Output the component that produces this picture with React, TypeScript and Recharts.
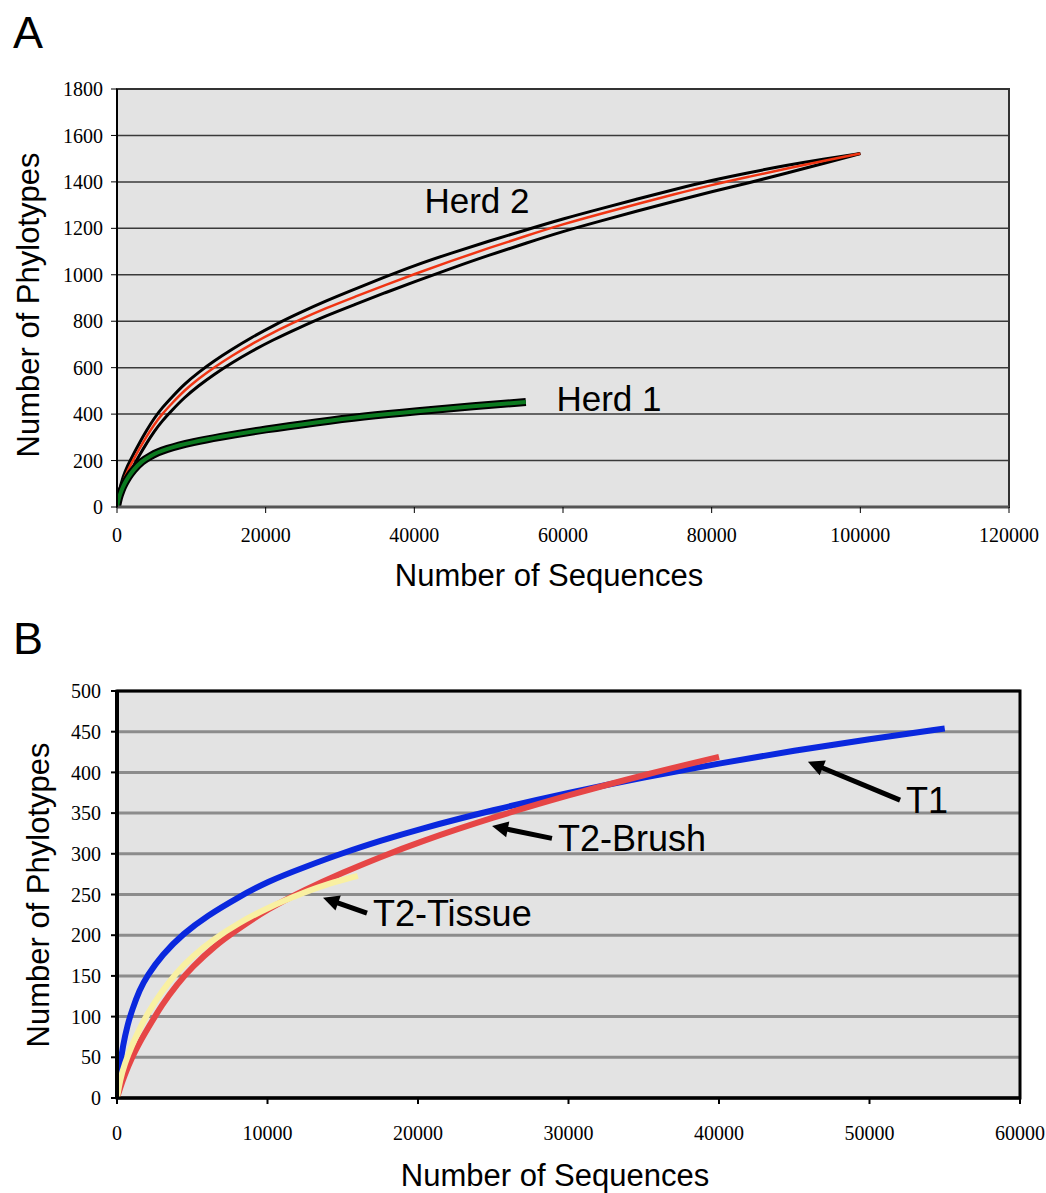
import { LineChart, Line, XAxis, YAxis, CartesianGrid, ReferenceArea, ReferenceDot, ReferenceLine } from 'recharts';

// ---- Panel A: rarefaction curves for the two herds ----
const herd2Seqs = [0, 300, 800, 1400, 2150, 3000, 4000, 5000, 6050, 7500, 9000, 11000, 13000, 15500, 18000, 21000, 24490, 28000, 32000, 36000, 40000, 45000, 50000, 55000, 60000, 65000, 70000, 75000, 80000, 85000, 90000, 95000, 100000];
const herd2Mid = [0, 55, 110, 155, 200, 250, 305, 355, 400, 450, 500, 553, 600, 652, 700, 752, 805, 855, 905, 955, 1003, 1060, 1115, 1167, 1218, 1262, 1305, 1347, 1387, 1422, 1457, 1490, 1522];
const herd2Upper = [0, 70, 130, 177, 224, 275, 331, 382, 427, 477, 528, 581, 628, 680, 728, 781, 835, 886, 938, 990, 1040, 1094, 1145, 1193, 1241, 1284, 1326, 1368, 1407, 1440, 1471, 1498, 1522];
const herd2Lower = [0, 40, 88, 130, 173, 222, 276, 325, 370, 420, 470, 523, 570, 622, 669, 720, 772, 822, 872, 922, 970, 1028, 1084, 1136, 1187, 1231, 1275, 1317, 1358, 1396, 1437, 1479, 1522];

const herd1Seqs = [0, 250, 600, 1000, 1500, 2200, 3360, 4500, 5500, 6730, 8300, 10000, 13450, 20000, 26900, 33000, 40360, 48000, 55000];
const herd1Phylo = [0, 40, 72, 100, 128, 160, 198, 220, 236, 250, 265, 278, 300, 335, 365, 390, 413, 434, 452];

const yTicksA = [0, 200, 400, 600, 800, 1000, 1200, 1400, 1600, 1800];
const xTicksA = [0, 20000, 40000, 60000, 80000, 100000, 120000];

// herd name, x, y (data coordinates of label centre)
const herdLabels: [string, number, number][] = [
  ['Herd 2', 48430, 1322],
  ['Herd 1', 66190, 469],
];

// ---- Panel B: rarefaction curves by sample type ----
const t1Seqs = [0, 150, 400, 700, 1000, 1500, 2000, 3000, 4400, 6000, 8000, 10000, 12500, 15000, 17500, 20000, 25000, 30000, 35000, 40000, 45000, 50000, 55000];
const t1Phylo = [0, 35, 65, 90, 108, 133, 150, 176, 202, 224, 246, 266, 284, 301, 316, 330, 354, 375, 394, 411, 427, 441, 454];

const brushSeqs = [0, 200, 500, 1000, 1500, 2000, 3000, 4000, 5000, 6500, 8000, 10000, 12500, 15000, 17500, 20000, 25000, 30000, 35000, 40000];
const brushPhylo = [0, 12, 28, 50, 68, 84, 115, 140, 161, 187, 207, 232, 256, 277, 296, 314, 345, 372, 397, 419];

const tissueSeqs = [0, 200, 500, 1000, 1500, 2000, 3000, 4000, 5000, 6500, 8000, 10000, 12500, 14000, 16000];
const tissuePhylo = [0, 22, 42, 65, 85, 103, 132, 155, 174, 196, 214, 234, 253, 263, 273];

const yTicksB = [0, 50, 100, 150, 200, 250, 300, 350, 400, 450, 500];
const xTicksB = [0, 10000, 20000, 30000, 40000, 50000, 60000];

// label, arrow head (x, y), arrow tail (x, y)
const arrowLabels: [string, number, number, number, number][] = [
  ['T1', 45910, 413, 52030, 366],
  ['T2-Brush', 24920, 334, 28900, 319],
  ['T2-Tissue', 13690, 246, 16610, 227],
];

const zip = (xs: number[], ys: number[]) => xs.map((x, i) => ({ x, y: ys[i] }));

const sans = '"Liberation Sans", Arial, sans-serif';
const serif = '"Liberation Serif", "Times New Roman", serif';
const tickStyle = { fontFamily: serif, fontSize: 20, fill: '#000' };

function Text({ x, y, size, rotate = 0, children }: { x: number; y: number; size: number; rotate?: number; children: string }) {
  return (
    <div
      style={{
        position: 'absolute',
        left: x,
        top: y,
        transform: `translate(-50%, -50%) rotate(${rotate}deg)`,
        fontFamily: sans,
        fontSize: size,
        lineHeight: 1,
        whiteSpace: 'nowrap',
        color: '#000',
      }}
    >
      {children}
    </div>
  );
}

const arrowShape = (label: string) => (p: any) => {
  const { x1, y1, x2, y2 } = p;
  const dx = x1 - x2;
  const dy = y1 - y2;
  const len = Math.sqrt(dx * dx + dy * dy) || 1;
  const ux = dx / len;
  const uy = dy / len;
  const bx = x1 - ux * 16;
  const by = y1 - uy * 16;
  return (
    <g>
      <line x1={x2} y1={y2} x2={bx + ux * 2} y2={by + uy * 2} stroke="#000" strokeWidth={5} />
      <polygon
        points={`${x1},${y1} ${bx - uy * 8},${by + ux * 8} ${bx + uy * 8},${by - ux * 8}`}
        fill="#000"
      />
      <text x={x2 + 6} y={y2} dominantBaseline="central" fontFamily={sans} fontSize={36} fill="#000">
        {label}
      </text>
    </g>
  );
};

export default function App() {
  return (
    <div style={{ position: 'absolute', left: 0, top: 0, width: 1046, height: 1193, background: '#fff' }}>
      <Text x={28} y={32} size={45}>A</Text>
      <Text x={28} y={638} size={45}>B</Text>

      <div style={{ position: 'absolute', left: 0, top: 0 }}>
        <LineChart width={1046} height={610} margin={{ top: 89, right: 37, left: 0, bottom: 0 }}>
          <CartesianGrid vertical={false} fill="#e3e3e3" stroke="#3a3a3a" strokeWidth={1.5} />
          <ReferenceArea x1={0} x2={120000} y1={0} y2={1800} fill="none" stroke="#333" strokeWidth={2} />
          <XAxis
            dataKey="x"
            type="number"
            domain={[0, 120000]}
            ticks={xTicksA}
            interval={0}
            height={103}
            tickMargin={15}
            tick={tickStyle}
            axisLine={{ stroke: '#555', strokeWidth: 3 }}
            tickLine={{ stroke: '#000' }}
            allowDataOverflow
          />
          <YAxis
            type="number"
            domain={[0, 1800]}
            ticks={yTicksA}
            interval={0}
            width={117}
            tickMargin={8}
            tick={tickStyle}
            axisLine={{ stroke: '#000', strokeWidth: 2 }}
            tickLine={{ stroke: '#000' }}
            allowDataOverflow
          />
          <Line data={zip(herd2Seqs, herd2Upper)} dataKey="y" type="basis" stroke="#000" strokeWidth={3} dot={false} isAnimationActive={false} />
          <Line data={zip(herd2Seqs, herd2Lower)} dataKey="y" type="basis" stroke="#000" strokeWidth={3} dot={false} isAnimationActive={false} />
          <Line data={zip(herd2Seqs, herd2Mid)} dataKey="y" type="basis" stroke="#f03412" strokeWidth={2.5} dot={false} isAnimationActive={false} />
          <Line data={zip(herd1Seqs, herd1Phylo)} dataKey="y" type="basis" stroke="#000" strokeWidth={8} dot={false} isAnimationActive={false} />
          <Line data={zip(herd1Seqs, herd1Phylo)} dataKey="y" type="basis" stroke="#0b7a1f" strokeWidth={4} dot={false} isAnimationActive={false} />
          {herdLabels.map(([name, x, y]) => (
            <ReferenceDot
              key={name}
              x={x}
              y={y}
              r={0}
              shape={(p: any) => (
                <text x={p.cx} y={p.cy} textAnchor="middle" dominantBaseline="central" fontFamily={sans} fontSize={35} fill="#000">
                  {name}
                </text>
              )}
            />
          ))}
        </LineChart>
      </div>
      <Text x={28} y={305} size={31} rotate={-90}>Number of Phylotypes</Text>
      <Text x={549} y={575} size={31}>Number of Sequences</Text>

      <div style={{ position: 'absolute', left: 0, top: 600 }}>
        <LineChart width={1046} height={593} margin={{ top: 91, right: 26, left: 0, bottom: 0 }}>
          <CartesianGrid vertical={false} fill="#e3e3e3" stroke="#8c8c8c" strokeWidth={3} />
          <ReferenceArea x1={0} x2={60000} y1={0} y2={500} fill="none" stroke="#000" strokeWidth={3} />
          <XAxis
            dataKey="x"
            type="number"
            domain={[0, 60000]}
            ticks={xTicksB}
            interval={0}
            height={95}
            tickMargin={22}
            tick={tickStyle}
            axisLine={{ stroke: '#000', strokeWidth: 3 }}
            tickLine={{ stroke: '#000', strokeWidth: 2 }}
            allowDataOverflow
          />
          <YAxis
            type="number"
            domain={[0, 500]}
            ticks={yTicksB}
            interval={0}
            width={117}
            tickMargin={10}
            tick={tickStyle}
            axisLine={{ stroke: '#000', strokeWidth: 4 }}
            tickLine={{ stroke: '#000', strokeWidth: 2 }}
            allowDataOverflow
          />
          <Line data={zip(t1Seqs, t1Phylo)} dataKey="y" type="basis" stroke="#0a28de" strokeWidth={6} dot={false} isAnimationActive={false} />
          <Line data={zip(brushSeqs, brushPhylo)} dataKey="y" type="basis" stroke="#e64646" strokeWidth={6} dot={false} isAnimationActive={false} />
          <Line data={zip(tissueSeqs, tissuePhylo)} dataKey="y" type="basis" stroke="#f9f0a2" strokeWidth={6} dot={false} isAnimationActive={false} />
          {arrowLabels.map(([name, hx, hy, tx, ty]) => (
            <ReferenceLine
              key={name}
              segment={[{ x: hx, y: hy }, { x: tx, y: ty }]}
              shape={arrowShape(name)}
            />
          ))}
        </LineChart>
      </div>
      <Text x={38} y={895} size={31} rotate={-90}>Number of Phylotypes</Text>
      <Text x={555} y={1175} size={31}>Number of Sequences</Text>
    </div>
  );
}
